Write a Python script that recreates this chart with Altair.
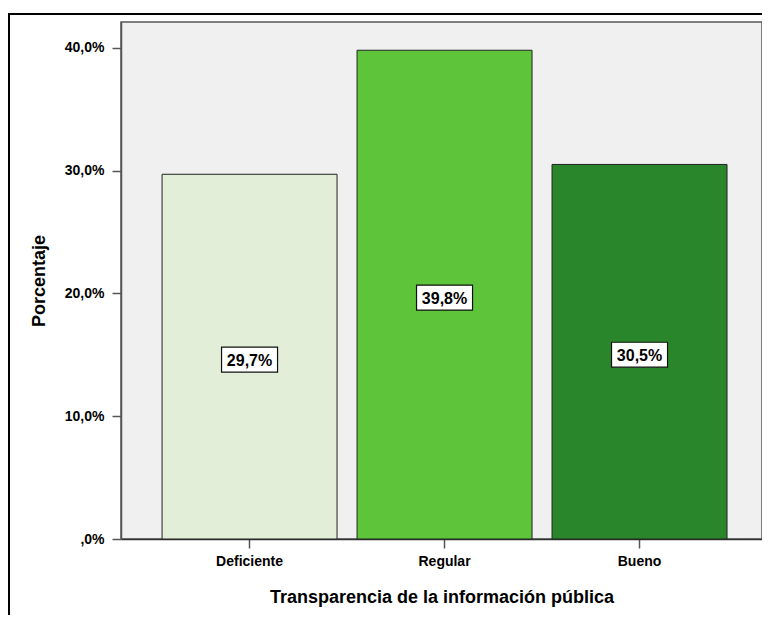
import altair as alt
import pandas as pd

categories = ["Deficiente", "Regular", "Bueno"]
percentages = [29.7, 39.8, 30.5]
bar_colors = ["#E2EED8", "#5EC43A", "#2A862A"]
y_ticks = [0, 10, 20, 30, 40]

df = pd.DataFrame({"cat": categories, "val": percentages})
frame_df = pd.DataFrame({"a": [0]})

FONT = "Liberation Sans"
W, H = 641, 517

x_enc = alt.X(
    "cat:N",
    sort=categories,
    scale=alt.Scale(paddingInner=0.1026, paddingOuter=0.195, align=0.54),
    axis=alt.Axis(
        title="Transparencia de la información pública",
        titleFontSize=18, titleFontWeight="bold", titleColor="black", titleFont=FONT,
        labelFontSize=14, labelFontWeight="bold", labelColor="black", labelFont=FONT,
        labelAngle=0, tickSize=9, tickColor="#555555", tickWidth=1.5,
        domainColor="#333333", domainWidth=1.5, labelPadding=6, titlePadding=20,
        grid=False,
    ),
)

y_axis = alt.Axis(
    values=y_ticks,
    labelExpr="datum.value == 0 ? ',0%' : replace(format(datum.value, '.1f'), '.', ',') + '%'",
    title="Porcentaje",
    titleFontSize=18, titleFontWeight="bold", titleColor="black", titleFont=FONT,
    labelFontSize=14, labelFontWeight="bold", labelColor="black", labelFont=FONT,
    tickSize=9, tickColor="#555555", tickWidth=1.5,
    domainColor="#555555", domainWidth=1.5, labelPadding=8, titlePadding=16,
    grid=False,
)
y_scale = alt.Scale(domain=[0, 42.1], nice=False)

base = alt.Chart(df)

bars = base.mark_bar(stroke="#222222", strokeWidth=1).encode(
    x=x_enc,
    y=alt.Y("val:Q", scale=y_scale, axis=y_axis),
    color=alt.Color("cat:N", scale=alt.Scale(domain=categories, range=bar_colors), legend=None),
)

box_path = "M-1,-0.446 L1,-0.446 L1,0.446 L-1,0.446 Z"
labels_base = base.transform_calculate(
    mid="datum.val / 2",
    txt="replace(format(datum.val, '.1f'), '.', ',') + '%'",
)
boxes = labels_base.mark_point(
    shape=box_path, size=3136, filled=True, fill="white", stroke="#111111",
    strokeWidth=1.2, opacity=1, yOffset=3,
).encode(x=alt.X("cat:N", sort=categories), y=alt.Y("mid:Q", scale=y_scale))

texts = labels_base.mark_text(
    font=FONT, fontSize=16, fontWeight="bold", color="black",
    baseline="middle", align="center", yOffset=4,
).encode(x=alt.X("cat:N", sort=categories), y=alt.Y("mid:Q", scale=y_scale), text="txt:N")

frame_left = alt.Chart(frame_df).mark_rule(color="black", strokeWidth=2).encode(
    x=alt.value(-112), y=alt.value(-8), y2=alt.value(H + 80)
)
frame_top = alt.Chart(frame_df).mark_rule(color="black", strokeWidth=2).encode(
    x=alt.value(-113), x2=alt.value(W + 10), y=alt.value(-8)
)

chart = alt.layer(bars, boxes, texts, frame_left, frame_top).properties(
    width=W, height=H,
    autosize=alt.AutoSizeParams(type="none"),
    padding={"left": 113, "top": 14, "right": 0, "bottom": 76},
).configure(
    background="white",
    view=alt.ViewConfig(fill="#F0F0F0", stroke="#555555", strokeWidth=1.5),
)

chart.save("out.html", embed_options={"renderer": "svg", "actions": False})
